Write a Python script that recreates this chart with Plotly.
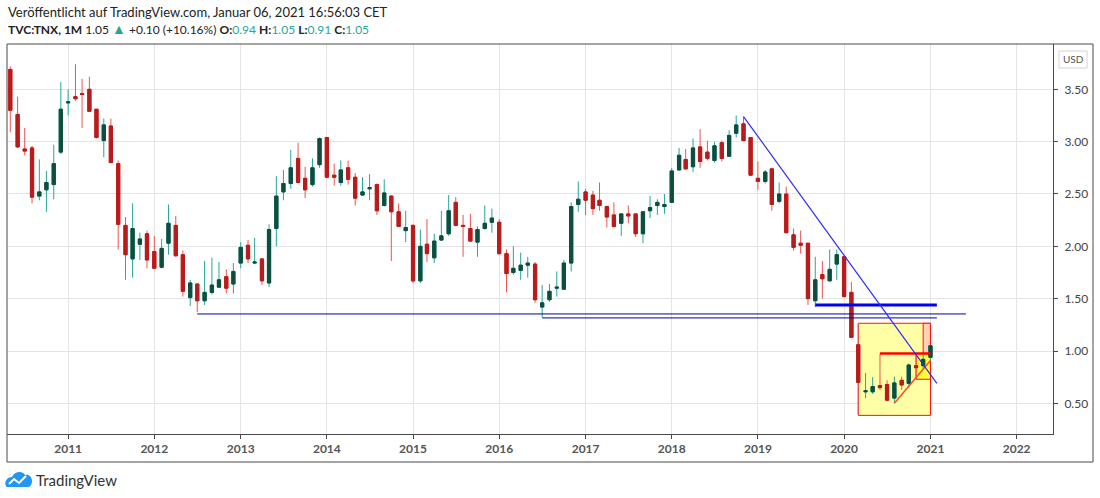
import pandas as pd
import plotly.graph_objects as go

## Monatskerzen TVC:TNX, Mai 2010 bis Januar 2021
opens = [
    3.69, 3.26, 2.93, 2.94, 2.48, 2.54, 2.59, 2.90,                          # 2010 (ab Mai)
    3.37, 3.43, 3.46, 3.50, 3.31, 3.01, 3.15, 2.79, 2.20, 1.88, 2.02, 2.12,  # 2011
    1.95, 1.80, 2.03, 2.20, 1.92, 1.51, 1.64, 1.48, 1.56, 1.61, 1.71, 1.64,  # 2012
    1.84, 2.01, 1.84, 1.88, 1.65, 2.17, 2.52, 2.60, 2.84, 2.65, 2.59, 2.78,  # 2013
    3.04, 2.68, 2.61, 2.75, 2.66, 2.49, 2.55, 2.59, 2.39, 2.48, 2.33, 2.15,  # 2014
    2.20, 1.67, 2.02, 1.89, 2.06, 2.12, 2.42, 2.20, 2.17, 2.04, 2.17, 2.23,  # 2015
    2.23, 1.93, 1.75, 1.77, 1.82, 1.83, 1.42, 1.49, 1.60, 1.59, 1.84, 2.40,  # 2016
    2.52, 2.49, 2.44, 2.38, 2.30, 2.22, 2.31, 2.31, 2.12, 2.34, 2.39, 2.38,  # 2017
    2.42, 2.73, 2.83, 2.76, 2.95, 2.90, 2.82, 2.99, 2.86, 3.08, 3.17, 3.04,  # 2018
    2.65, 2.62, 2.74, 2.43, 2.50, 2.11, 2.03, 2.03, 1.48, 1.73, 1.67, 1.83,  # 2019
    1.90, 1.56, 1.06, 0.61, 0.61, 0.67, 0.68, 0.55, 0.72, 0.69, 0.86, 0.86,  # 2020
    0.94,                                                                    # 2021
]
highs = [
    3.72, 3.43, 3.13, 2.96, 2.83, 2.72, 2.97, 3.57,
    3.50, 3.74, 3.60, 3.62, 3.31, 3.22, 3.22, 2.82, 2.28, 2.41, 2.13, 2.15,
    2.10, 2.07, 2.40, 2.29, 1.96, 1.68, 1.64, 1.86, 1.89, 1.85, 1.78, 1.84,
    2.04, 2.06, 2.08, 1.88, 2.21, 2.67, 2.73, 2.92, 2.99, 2.76, 2.84, 3.04,
    3.04, 2.79, 2.82, 2.82, 2.70, 2.66, 2.69, 2.60, 2.64, 2.49, 2.41, 2.34,
    2.21, 2.16, 2.26, 2.12, 2.34, 2.49, 2.47, 2.30, 2.31, 2.19, 2.39, 2.36,
    2.26, 1.97, 2.00, 1.94, 1.90, 1.85, 1.63, 1.64, 1.76, 1.87, 2.42, 2.62,
    2.55, 2.53, 2.61, 2.39, 2.42, 2.31, 2.39, 2.31, 2.33, 2.48, 2.45, 2.50,
    2.75, 2.94, 2.93, 3.03, 3.12, 3.01, 3.00, 3.01, 3.11, 3.25, 3.24, 3.04,
    2.81, 2.73, 2.75, 2.61, 2.57, 2.17, 2.15, 2.03, 1.90, 1.86, 1.97, 1.97,
    1.90, 1.66, 1.265, 0.79, 0.75, 0.975, 0.72, 0.755, 0.755, 0.88, 0.975, 0.97,
    1.05,
]
lows = [
    3.09, 2.94, 2.87, 2.41, 2.44, 2.33, 2.45, 2.88,
    3.25, 3.39, 3.13, 3.29, 3.03, 2.85, 2.80, 1.97, 1.68, 1.70, 1.87, 1.79,
    1.79, 1.79, 1.92, 1.90, 1.52, 1.43, 1.37, 1.44, 1.54, 1.60, 1.55, 1.55,
    1.79, 1.84, 1.83, 1.63, 1.61, 2.00, 2.44, 2.55, 2.60, 2.46, 2.57, 2.75,
    2.65, 2.58, 2.58, 2.59, 2.39, 2.48, 2.44, 2.30, 2.38, 1.86, 2.19, 2.04,
    1.65, 1.65, 1.85, 1.84, 2.05, 2.10, 2.19, 1.90, 2.04, 1.90, 2.16, 2.13,
    1.92, 1.56, 1.73, 1.68, 1.70, 1.46, 1.32, 1.47, 1.52, 1.59, 1.76, 2.33,
    2.30, 2.30, 2.34, 2.18, 2.18, 2.10, 2.22, 2.09, 2.03, 2.27, 2.30, 2.31,
    2.42, 2.72, 2.73, 2.71, 2.75, 2.82, 2.80, 2.81, 2.86, 3.04, 3.01, 2.67,
    2.54, 2.60, 2.34, 2.41, 2.13, 1.96, 1.93, 1.44, 1.42, 1.50, 1.67, 1.68,
    1.51, 1.13, 0.39, 0.548, 0.59, 0.627, 0.52, 0.50, 0.627, 0.65, 0.73, 0.83,
    0.91,
]
closes = [
    3.30, 2.95, 2.91, 2.47, 2.52, 2.61, 2.79, 3.31,
    3.38, 3.41, 3.45, 3.29, 3.04, 3.16, 2.80, 2.21, 1.92, 2.17, 2.07, 1.87,
    1.79, 1.98, 2.22, 1.91, 1.57, 1.65, 1.48, 1.56, 1.63, 1.68, 1.60, 1.76,
    1.99, 1.88, 1.85, 1.67, 2.16, 2.48, 2.60, 2.75, 2.61, 2.54, 2.75, 3.03,
    2.66, 2.66, 2.73, 2.64, 2.46, 2.52, 2.56, 2.34, 2.51, 2.33, 2.19, 2.18,
    1.67, 2.00, 1.93, 2.05, 2.10, 2.34, 2.20, 2.19, 2.05, 2.16, 2.22, 2.27,
    1.93, 1.74, 1.79, 1.82, 1.84, 1.49, 1.46, 1.57, 1.61, 1.84, 2.38, 2.45,
    2.44, 2.36, 2.39, 2.28, 2.19, 2.31, 2.29, 2.12, 2.33, 2.37, 2.42, 2.40,
    2.72, 2.87, 2.74, 2.94, 2.81, 2.84, 2.96, 2.84, 3.06, 3.16, 3.01, 2.68,
    2.62, 2.71, 2.40, 2.50, 2.13, 1.99, 2.01, 1.50, 1.68, 1.69, 1.78, 1.92,
    1.52, 1.13, 0.70, 0.62, 0.66, 0.65, 0.53, 0.695, 0.675, 0.866, 0.84, 0.92,
    1.05,
]
months = pd.date_range("2010-05-01", periods=len(opens), freq="MS")

year_ticks = list(range(2011, 2023))
price_ticks = [0.5, 1.0, 1.5, 2.0, 2.5, 3.0, 3.5]

## Zeichnungen im Chart (Trendlinien, Rechtecke)
trend_start = ("2018-11-01", 3.24)
trend_end = ("2021-01-28", 0.69)
support_thick = ("2019-09-01", "2021-01-28", 1.44)
support_2012 = ("2012-07-01", "2021-05-31", 1.354)
support_2016 = ("2016-07-01", "2021-01-28", 1.316)
box_big = ("2020-03-01", "2021-01-01", 0.385, 1.265)
box_pink = ("2020-12-01", "2021-01-01", 0.975, 1.265)
box_nov = ("2020-11-01", "2021-01-01", 0.73, 0.975)
red_level = ("2020-06-01", "2021-01-01", 0.975)
red_diag = (("2020-08-01", 0.50), ("2021-01-01", 0.91))

# Pixel -> Papier-Koordinaten (Plotbereich 7..1053 x 44..434)
L, R, T, B = 7, 1053, 44, 434
def px(x):
    return (x - L) / (R - L)
def py(y):
    return (B - y) / (B - T)

GREEN_BODY, GREEN_WICK = "#0e4e3f", "#26a69a"
RED_BODY, RED_WICK = "#b71c1c", "#ef5350"

fig = go.Figure()

# Dochte
fig.add_trace(go.Candlestick(
    x=months, open=opens, high=highs, low=lows, close=closes,
    increasing=dict(line=dict(color=GREEN_WICK, width=1), fillcolor=GREEN_WICK),
    decreasing=dict(line=dict(color=RED_WICK, width=1), fillcolor=RED_WICK),
    hoverinfo="skip", showlegend=False))

# Kerzenkörper
body_hi = [max(o, c) for o, c in zip(opens, closes)]
body_lo = [min(o, c) for o, c in zip(opens, closes)]
fig.add_trace(go.Candlestick(
    x=months, open=opens, high=body_hi, low=body_lo, close=closes,
    increasing=dict(line=dict(color=GREEN_BODY, width=1), fillcolor=GREEN_BODY),
    decreasing=dict(line=dict(color=RED_BODY, width=1), fillcolor=RED_BODY),
    showlegend=False))

shapes = []
# Rechtecke (unter den Kerzen, über dem Gitter)
for (x0, x1, y0, y1), fill in [(box_big, "#ffffa6"), (box_pink, "#ffd2b8"), (box_nov, "#ffff3c")]:
    shapes.append(dict(type="rect", xref="x", yref="y", x0=x0, x1=x1, y0=y0, y1=y1,
                       fillcolor=fill, line=dict(color="#ff1010", width=1), layer="between"))

# Linien
shapes.append(dict(type="line", xref="x", yref="y", x0=support_2012[0], x1=support_2012[1],
                   y0=support_2012[2], y1=support_2012[2], line=dict(color="#0000a8", width=1)))
shapes.append(dict(type="line", xref="x", yref="y", x0=support_2016[0], x1=support_2016[1],
                   y0=support_2016[2], y1=support_2016[2], line=dict(color="#0000a8", width=1)))
shapes.append(dict(type="line", xref="x", yref="y", x0=support_thick[0], x1=support_thick[1],
                   y0=support_thick[2], y1=support_thick[2], line=dict(color="#0000ff", width=3)))
shapes.append(dict(type="line", xref="x", yref="y", x0=red_level[0], x1=red_level[1],
                   y0=red_level[2], y1=red_level[2], line=dict(color="#ff0000", width=2.5)))
shapes.append(dict(type="line", xref="x", yref="y", x0=red_diag[0][0], y0=red_diag[0][1],
                   x1=red_diag[1][0], y1=red_diag[1][1], line=dict(color="#ff4a2a", width=1.5)))
shapes.append(dict(type="line", xref="x", yref="y", x0=trend_start[0], y0=trend_start[1],
                   x1=trend_end[0], y1=trend_end[1], line=dict(color="#2a2aff", width=1.2)))

# Rahmen um Chart + Preisskala + Zeitskala
shapes.append(dict(type="rect", xref="paper", yref="paper", x0=0, x1=px(1093), y0=py(462), y1=1,
                   line=dict(color="#4a4a4a", width=1)))
# USD-Kästchen
shapes.append(dict(type="rect", xref="paper", yref="paper", x0=px(1059), x1=px(1087),
                   y0=py(68), y1=py(51), line=dict(color="#d4d4d4", width=1)))

# TradingView-Logo (Wolke)
def path(points):
    return " ".join(f"{cmd}{px(x):.5f},{py(y):.5f}" if cmd else f"{px(x):.5f},{py(y):.5f}"
                    for cmd, x, y in points)
cloud = path([("M", 6, 486), ("C", 4, 482), ("", 7, 477), ("", 12, 477),
              ("C", 14, 472), ("", 22, 470), ("", 25, 475),
              ("C", 29, 474), ("", 32, 477), ("", 32, 481),
              ("C", 32, 485), ("", 30, 487), ("", 27, 487),
              ("L", 9, 487), ("C", 7, 487), ("", 6, 487), ("", 6, 486)]) + " Z"
shapes.append(dict(type="path", xref="paper", yref="paper", path=cloud,
                   fillcolor="#2196f3", line=dict(width=0)))
zig = path([("M", 9, 484), ("L", 14, 479), ("L", 19, 483), ("L", 26, 476)])
shapes.append(dict(type="path", xref="paper", yref="paper", path=zig,
                   line=dict(color="white", width=2)))

FONT = "Lato, 'Open Sans', sans-serif"
TEAL = "#26a69a"
header2 = ("<b>TVC:TNX, 1M</b> 1.05 <span style='color:%s;font-size:14px'>▲</span> +0.10 (+10.16%%) "
           "<b>O:</b><span style='color:%s'>0.94</span> <b>H:</b><span style='color:%s'>1.05</span> "
           "<b>L:</b><span style='color:%s'>0.91</span> <b>C:</b><span style='color:%s'>1.05</span>"
           ) % (TEAL, TEAL, TEAL, TEAL, TEAL)

annotations = [
    dict(text="Veröffentlicht auf TradingView.com, Januar 06, 2021 16:56:03 CET",
         x=px(6), y=py(12), xref="paper", yref="paper", xanchor="left", yanchor="middle",
         showarrow=False, font=dict(size=13, color="#222222")),
    dict(text=header2, x=px(6), y=py(29), xref="paper", yref="paper", xanchor="left",
         yanchor="middle", showarrow=False, font=dict(size=12, color="#222222")),
    dict(text="USD", x=px(1073), y=py(59.5), xref="paper", yref="paper", showarrow=False,
         xanchor="center", yanchor="middle", font=dict(size=10, color="#555555")),
    dict(text="TradingView", x=px(34), y=py(480), xref="paper", yref="paper", xanchor="left",
         yanchor="middle", showarrow=False, font=dict(size=15, color="#333333")),
]

fig.update_layout(
    width=1100, height=498,
    margin=dict(l=L, r=1100 - R, t=T, b=498 - B, autoexpand=False),
    paper_bgcolor="white", plot_bgcolor="white",
    font=dict(family=FONT, color="#4a4a4a"),
    shapes=shapes, annotations=annotations,
    xaxis=dict(
        type="date", range=["2010-04-17", "2022-06-04"],
        tickvals=[f"{y}-01-01" for y in year_ticks], ticktext=[str(y) for y in year_ticks],
        showgrid=True, gridcolor="#e4e4e4", gridwidth=1,
        ticks="outside", ticklen=4, tickcolor="#4a4a4a",
        showline=True, linecolor="#4a4a4a", linewidth=1,
        tickfont=dict(size=12, color="#555555", weight="bold"),
        rangeslider=dict(visible=False), fixedrange=True, automargin=False,
    ),
    yaxis=dict(
        side="right", range=[0.207, 3.933],
        tickvals=price_ticks, ticktext=[f"{v:.2f}" for v in price_ticks],
        showgrid=True, gridcolor="#e4e4e4", gridwidth=1, zeroline=False,
        ticks="outside", ticklen=4, tickcolor="#4a4a4a",
        showline=True, linecolor="#4a4a4a", linewidth=1,
        tickfont=dict(size=12, color="#444444"), ticklabelstandoff=4,
        fixedrange=True, automargin=False,
    ),
)

# Browser-Standardrand (8px) entfernen, damit die Seite genau 1100x498 zeigt
fig.write_html("out.html", config={"displayModeBar": False},
               post_script="document.body.style.margin='0px';")
